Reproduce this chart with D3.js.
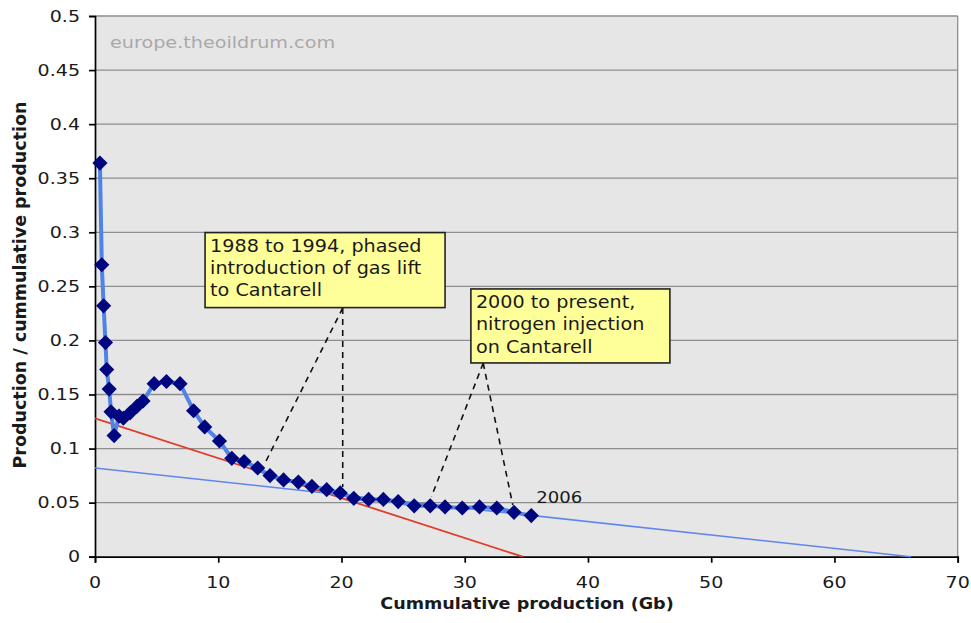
<!DOCTYPE html>
<html>
<head>
<meta charset="utf-8">
<script src="https://cdn.jsdelivr.net/npm/d3@7"></script>
<style>
body { margin: 0; background: #fff; }
text { font-family: "DejaVu Sans", Verdana, sans-serif; }
</style>
</head>
<body>
<div id="chart"></div>
<script>
//Data
const cumProd = [0.4, 0.55, 0.7, 0.85, 0.95, 1.15, 1.3, 1.55, 1.95, 2.3, 2.85, 3.4, 3.9, 4.8, 5.8, 6.9, 8.0, 8.9, 10.1, 11.1, 12.1, 13.2, 14.2, 15.3, 16.5, 17.6, 18.8, 19.9, 21.0, 22.2, 23.4, 24.6, 25.9, 27.2, 28.4, 29.8, 31.2, 32.6, 34.0, 35.4];
const ratio = [0.364, 0.270, 0.232, 0.198, 0.173, 0.155, 0.134, 0.112, 0.130, 0.128, 0.133, 0.139, 0.144, 0.160, 0.162, 0.160, 0.135, 0.120, 0.107, 0.091, 0.088, 0.082, 0.075, 0.071, 0.069, 0.065, 0.062, 0.059, 0.054, 0.053, 0.053, 0.051, 0.047, 0.047, 0.046, 0.045, 0.046, 0.045, 0.041, 0.038];

//trend lines: [x, y] end points
const redTrend = [[0, 0.128], [34.7, 0]];
const blueTrend = [[0, 0.082], [66.2, 0]];

const xTicks = [0, 10, 20, 30, 40, 50, 60, 70];
const yTicks = [0, 0.05, 0.1, 0.15, 0.2, 0.25, 0.3, 0.35, 0.4, 0.45, 0.5];

//annotation boxes: top-left corner in data units, lines of text
const noteLines1 = ["1988 to 1994, phased", "introduction of gas lift", "to Cantarell"];
const noteLines2 = ["2000 to present,", "nitrogen injection", "on Cantarell"];
const noteCorner1 = [8.93, 0.2997];
const noteCorner2 = [30.5, 0.2476];
//pointer lines: apex then targets
const pointer1 = [[20.1, 0.23], [13.8, 0.0867], [20.1, 0.0645]];
const pointer2 = [[31.5, 0.179], [27.3, 0.0555], [33.9, 0.0478]];
const lastLabel = "2006";

//Layout
const W = 971, H = 623;
const plotL = 95, plotR = 957.7, plotT = 16, plotB = 556.7;
const sx = 1.27; //the source image is stretched sideways

let x = d3.scaleLinear().domain([0, 70]).range([plotL, plotR]);
let y = d3.scaleLinear().domain([0, 0.5]).range([plotB, plotT]);

let svg = d3.select('#chart').append('svg')
	.attr('width', W)
	.attr('height', H);

let label = function(px, py, str, size, opts) {
	opts = opts || {};
	return svg.append('text')
		.attr('transform', 'translate(' + px + ',' + py + ') scale(' + (opts.stretch || sx) + ',1)')
		.attr('text-anchor', opts.anchor || 'start')
		.style('font-size', size + 'px')
		.style('font-weight', opts.weight || 'normal')
		.style('fill', opts.fill || '#1a1a1a')
		.text(str);
}

//plot background
svg.append('rect')
	.attr('x', plotL).attr('y', plotT)
	.attr('width', plotR - plotL).attr('height', plotB - plotT)
	.style('fill', '#e6e6e6');

//grid
svg.selectAll('.grid')
	.data(yTicks.slice(1))
	.enter()
	.append('line')
	.attr('x1', plotL).attr('x2', plotR)
	.attr('y1', d => y(d)).attr('y2', d => y(d))
	.style('stroke', '#8e8e8e')
	.style('stroke-width', 1.3);

svg.append('line')
	.attr('x1', plotR).attr('x2', plotR)
	.attr('y1', plotT).attr('y2', plotB)
	.style('stroke', '#8e8e8e')
	.style('stroke-width', 1.3);

//axes
let yAxis = d3.axisLeft(y).tickValues(yTicks).tickSize(6).tickFormat('');
let xAxis = d3.axisBottom(x).tickValues(xTicks).tickSize(6).tickFormat('');
svg.append('g').attr('transform', 'translate(' + plotL + ',0)').call(yAxis)
	.call(g => g.selectAll('path,line').style('stroke', '#000').style('stroke-width', 1.7));
svg.append('g').attr('transform', 'translate(0,' + plotB + ')').call(xAxis)
	.call(g => g.selectAll('path,line').style('stroke', '#000').style('stroke-width', 1.7));

yTicks.forEach(function(t) {
	label(80, y(t) + 5.5, d3.format('~g')(t), 15, {anchor: 'end'});
});
xTicks.forEach(function(t) {
	label(x(t), 588, String(t), 15, {anchor: 'middle'});
});

label(527, 609, 'Cummulative production (Gb)', 16, {anchor: 'middle', weight: 'bold', stretch: 1.1});
svg.append('text')
	.attr('transform', 'translate(26,285) rotate(-90)')
	.attr('text-anchor', 'middle')
	.style('font-size', '17.5px')
	.style('font-weight', 'bold')
	.style('fill', '#1a1a1a')
	.text('Production / cummulative production');

label(110, 48, 'europe.theoildrum.com', 16, {fill: '#a9a9a9', stretch: 1.2});

//trend lines
let line = d3.line().x(d => x(d[0])).y(d => y(d[1]));
svg.append('path').datum(redTrend).attr('d', line)
	.style('fill', 'none').style('stroke', '#e03c2c').style('stroke-width', 1.8);
svg.append('path').datum(blueTrend).attr('d', line)
	.style('fill', 'none').style('stroke', '#5f86ee').style('stroke-width', 1.6);

//series
let pts = cumProd.map((c, i) => [c, ratio[i]]);
svg.append('path').datum(pts).attr('d', line)
	.style('fill', 'none').style('stroke', '#5083e6').style('stroke-width', 4)
	.style('stroke-linejoin', 'round');
svg.selectAll('.pt')
	.data(pts)
	.enter()
	.append('path')
	.attr('d', d3.symbol(d3.symbolSquare, 115))
	.attr('transform', d => 'translate(' + x(d[0]) + ',' + y(d[1]) + ') rotate(45)')
	.style('fill', '#00067f');

label(x(35.8), y(0.0495), lastLabel, 16, {stretch: 1.13});

//annotations
let drawNote = function(corner, lines, pointer, w, h) {
	pointer.slice(1).forEach(function(p) {
		svg.append('line')
			.attr('x1', x(pointer[0][0])).attr('y1', y(pointer[0][1]))
			.attr('x2', x(p[0])).attr('y2', y(p[1]))
			.style('stroke', '#111').style('stroke-width', 1.6)
			.style('stroke-dasharray', '6,5');
	});
	svg.append('rect')
		.attr('x', x(corner[0])).attr('y', y(corner[1]))
		.attr('width', w).attr('height', h)
		.style('fill', '#ffff99').style('stroke', '#222').style('stroke-width', 1.6);
	lines.forEach(function(t, i) {
		label(x(corner[0]) + 5, y(corner[1]) + 19 + i * 22.3, t, 17, {stretch: 1.13});
	});
}
drawNote(noteCorner1, noteLines1, pointer1, 240, 75);
drawNote(noteCorner2, noteLines2, pointer2, 199, 74);
</script>
</body>
</html>
